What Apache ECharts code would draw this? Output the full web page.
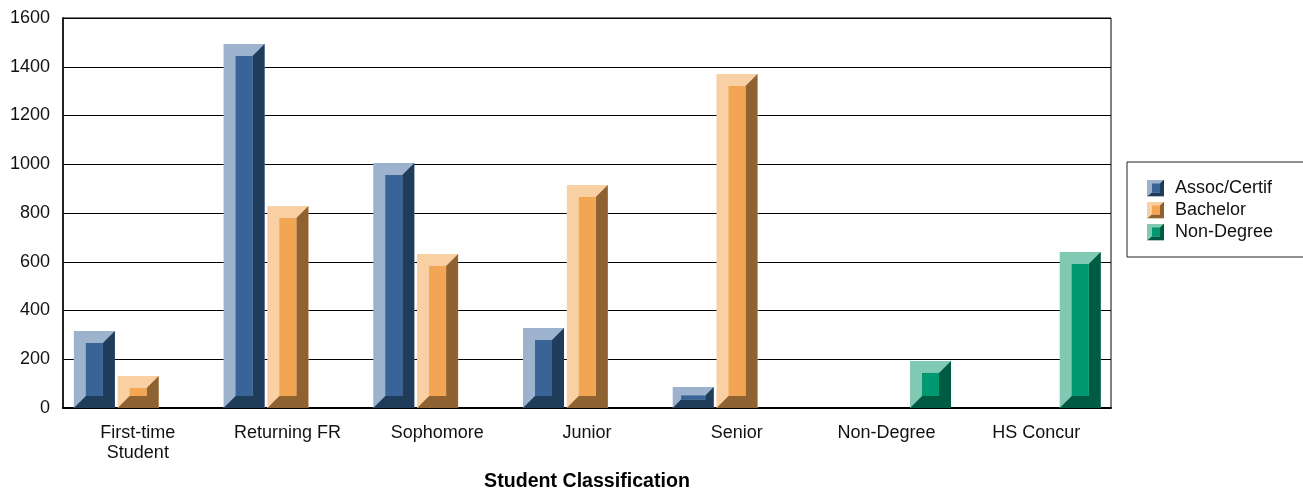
<!DOCTYPE html>
<html>
<head>
<meta charset="utf-8">
<style>html,body{margin:0;padding:0;background:#fff;overflow:hidden}#c{width:1303px;height:493px}</style>
<script src="https://cdn.jsdelivr.net/npm/echarts@6/dist/echarts.min.js"></script>
</head>
<body>
<div id="c"></div>
<script>
const categories = ['First-time\nStudent','Returning FR','Sophomore','Junior','Senior','Non-Degree','HS Concur'];
const assocCertif = [316, 1493, 1005, 328, 86, null, null];
const bachelor = [131, 829, 632, 915, 1370, null, null];
const nonDegree = [null, null, null, null, null, 193, 640];
const yTicks = {min: 0, max: 1600, interval: 200};

const palettes = [
  {light:'#9DB2CC', mid:'#386498', dark:'#1F3C5B'},
  {light:'#F8D0A4', mid:'#F2A654', dark:'#8F6232'},
  {light:'#80C9B2', mid:'#009870', dark:'#005B43'}
];

function swatch(p){
  const svg = `<svg xmlns="http://www.w3.org/2000/svg" width="17" height="17">`+
    `<rect width="17" height="17" fill="${p.light}"/>`+
    `<polygon points="17,0 17,17 0,17 5,13 13,13 13,4" fill="${p.dark}"/>`+
    `<rect x="5" y="4" width="8" height="9" fill="${p.mid}"/></svg>`;
  return 'image://data:image/svg+xml;charset=utf-8,' + encodeURIComponent(svg);
}

function bevelBar(slot, p){
  return function(params, api){
    const v = api.value(1);
    if (v == null || isNaN(v)) return null;
    const top = api.coord([api.value(0), v]);
    const base = api.coord([api.value(0), 0]);
    const band = api.size([1, 0])[0];
    const l = top[0] + band * (-0.4275 + slot * 0.2925);
    const r = l + band * 0.274;
    const t = top[1], b = base[1];
    const bev = Math.min(12, (b - t) * 0.4);
    const poly = (points, fill) => ({type:'polygon', shape:{points}, style:{fill}});
    return {type:'group', children:[
      {type:'rect', shape:{x:l, y:t, width:r-l, height:b-t}, style:{fill:p.light}},
      poly([[r,t],[r,b],[l,b],[l+bev,b-bev],[r-bev,b-bev],[r-bev,t+bev]], p.dark),
      {type:'rect', shape:{x:l+bev, y:t+bev, width:r-l-2*bev, height:b-t-2*bev}, style:{fill:p.mid}}
    ]};
  };
}

const seriesDefs = [
  ['Assoc/Certif', assocCertif],
  ['Bachelor', bachelor],
  ['Non-Degree', nonDegree]
];

const font = 'Liberation Sans';
const chart = echarts.init(document.getElementById('c'), null, {renderer:'canvas'});
chart.setOption({
  animation:false,
  backgroundColor:'#fff',
  grid:{left:63, right:192, top:18, bottom:85, show:true, borderColor:'#000', borderWidth:1, containLabel:false, outerBoundsMode:'none'},
  legend:{
    left:1127, top:162, orient:'vertical',
    padding:[17,60,16,20], itemGap:4, itemWidth:17, itemHeight:17,
    borderColor:'#222', borderWidth:1, backgroundColor:'#fff',
    selectedMode:false,
    textStyle:{fontFamily:font, fontSize:18, lineHeight:17, color:'#111', padding:[0,0,0,6]},
    data:seriesDefs.map((s,i)=>({name:s[0], icon:swatch(palettes[i])}))
  },
  xAxis:{
    type:'category', data:categories,
    axisLine:{show:true, lineStyle:{color:'#000', width:2}},
    axisTick:{show:false},
    axisLabel:{fontFamily:font, fontSize:18, color:'#111', margin:15, lineHeight:20, interval:0},
    name:'Student Classification', nameLocation:'middle', nameGap:64,
    nameTextStyle:{fontFamily:font, fontSize:19.6, fontWeight:'bold', color:'#000'}
  },
  yAxis:{
    type:'value', min:yTicks.min, max:yTicks.max, interval:yTicks.interval,
    axisLine:{show:true, lineStyle:{color:'#222', width:2}},
    axisTick:{show:false},
    axisLabel:{fontFamily:font, fontSize:18, color:'#111', margin:13, padding:[2,0,0,0], formatter:v=>String(v)},
    splitLine:{show:true, lineStyle:{color:'#000', width:1}}
  },
  series:seriesDefs.map((s,i)=>({
    type:'custom', name:s[0],
    itemStyle:{color:palettes[i].mid},
    encode:{x:0, y:1},
    data:s[1].map((v,k)=>[k, v]),
    renderItem:bevelBar(i, palettes[i]),
    silent:true
  }))
});
</script>
</body>
</html>
